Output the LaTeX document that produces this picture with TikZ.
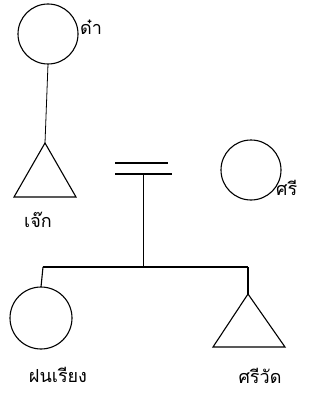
\documentclass[tikz,border=0pt]{standalone}
\usepackage{fontspec}
\newfontfamily\thaifont[Script=Thai]{Loma}
\begin{document}
\begin{tikzpicture}[x=1pt,y=-1pt,
  kin/.style={line width=1.1pt, draw=black},
  female/.style={circle, draw=black, line width=1.1pt, minimum size=60pt, inner sep=0pt, outer sep=0pt},
  lbl/.style={font=\thaifont\fontsize{18}{20}\selectfont, inner sep=0pt, text=black}]
\useasboundingbox (0,0) rectangle (322,401);
% people
\node[female] (gm) at (48,34) {};
\node[lbl, anchor=west] (gmlbl) at (80,27) {ด๋า};
\coordinate (fa) at (45,143);
\coordinate (fb1) at (14,197);
\coordinate (fb2) at (76,197);
\draw[kin, line join=miter] (fa) -- (fb1) -- (fb2) -- cycle;
\node[lbl] (flbl) at (38,220) {เจ๊ก};
\node[female] (mo) at (251,170) {};
\node[lbl, anchor=west] (molbl) at (276,188) {ศรี};
\node[female, minimum size=62pt] (d1) at (41,318) {};
\node[lbl] (d1lbl) at (58,375) {ฝนเรียง};
\coordinate (sa) at (248,294);
\coordinate (sb1) at (213,347);
\coordinate (sb2) at (285,347);
\draw[kin, line join=miter] (sa) -- (sb1) -- (sb2) -- cycle;
\node[lbl] (slbl) at (260,376) {ศรีวัด};
% connectors
\draw[kin, line width=0.8pt] (gm.south) -- (fa);
\coordinate (m1) at (115,163);
\coordinate (m2) at (168,163);
\coordinate (m3) at (115,174);
\coordinate (m4) at (172,174);
\draw[kin] (m1) -- (m2);
\draw[kin] (m3) -- (m4);
\coordinate (mm) at (143,174);
\coordinate (sib) at (143,267);
\draw[kin, line width=0.8pt] (mm) -- (sib);
\coordinate (sl) at (43,267);
\coordinate (sr) at (248,267);
\draw[kin] (sl) -- (sr);
\draw[kin] (sl) -- (d1.north);
\draw[kin] (sr) -- (sa);
\end{tikzpicture}
\end{document}
